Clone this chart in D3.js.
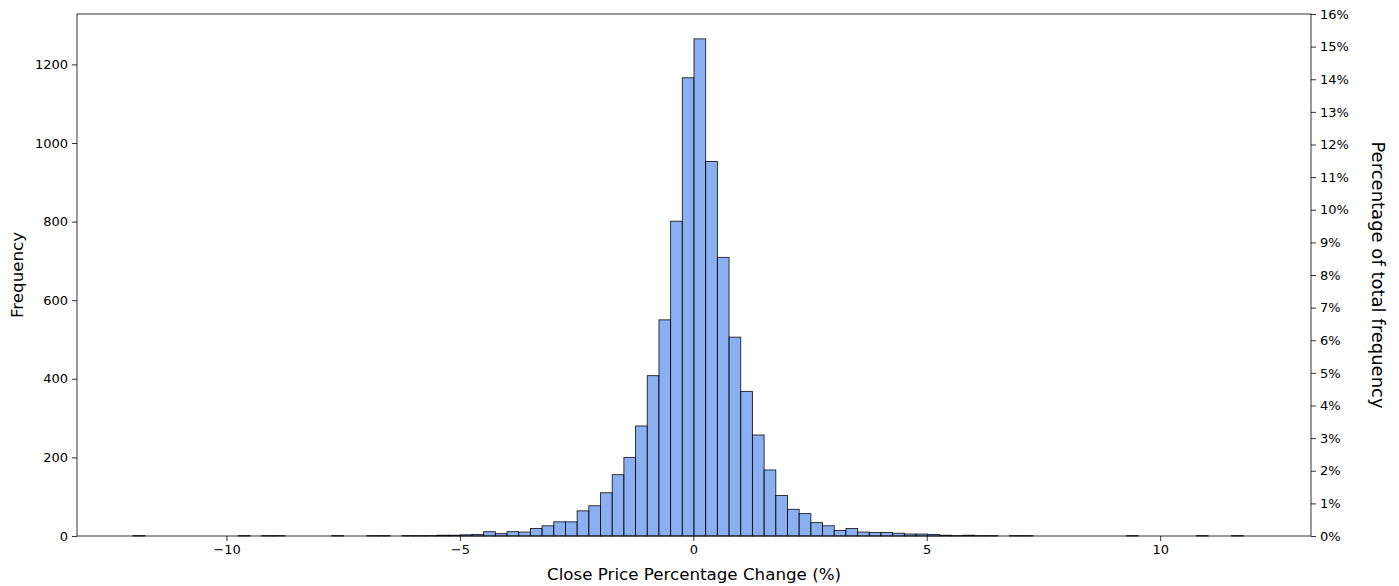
<!DOCTYPE html>
<html>
<head>
<meta charset="utf-8">
<script src="https://cdn.jsdelivr.net/npm/d3@7"></script>
<style>
  html, body { margin: 0; padding: 0; background: #fff; }
  svg { display: block; font-family: "DejaVu Sans", sans-serif; }
</style>
</head>
<body>
<svg id="chart" width="1399" height="586"></svg>
<script>
// ---- data ----
const binStart = -12.0;          // left edge of first bin (%)
const binWidth = 0.2503;         // bin width (%)
const counts = [
  1, 0, 0, 0, 0, 0, 0, 0, 0, 1,
  0, 1, 1, 0, 0, 0, 0, 1, 0, 0,
  1, 1, 0, 1, 1, 1, 2, 2, 3, 4,
  11, 6, 11, 10, 19, 26, 36, 36, 64, 77,
  110, 156, 200, 280, 408, 550, 801, 1166, 1265, 953,
  709, 506, 368, 257, 168, 103, 68, 57, 34, 26,
  14, 19, 10, 9, 9, 7, 5, 5, 4, 2,
  1, 2, 1, 1, 0, 1, 1, 0, 0, 0,
  0, 0, 0, 0, 0, 1, 0, 0, 0, 0,
  0, 1, 0, 0, 1, 0
];
const xTicks = [-10, -5, 0, 5, 10];
const yTicks = [0, 200, 400, 600, 800, 1000, 1200];
const pctTicks = [0, 1, 2, 3, 4, 5, 6, 7, 8, 9, 10, 11, 12, 13, 14, 15, 16];
const pctMax = 16;
const xLabel = "Close Price Percentage Change (%)";
const yLabel = "Frequency";
const y2Label = "Percentage of total frequency";

// ---- layout ----
const svg = d3.select("#chart");
const L = 77, R = 1311, T = 14, B = 536;

const bins = counts.map((c, i) => ({ x0: binStart + i * binWidth, x1: binStart + (i + 1) * binWidth, c }));
const xMin = bins[0].x0, xMax = bins[bins.length - 1].x1;
const pad = (xMax - xMin) * 0.05;
const x = d3.scaleLinear().domain([xMin - pad, xMax + pad]).range([L, R]);
const yMax = d3.max(counts) * 1.05;
const y = d3.scaleLinear().domain([0, yMax]).range([B, T]);
const y2 = d3.scaleLinear().domain([0, pctMax]).range([B, T]);

// bars
svg.append("g").selectAll("rect")
  .data(bins.filter(d => d.c > 0))
  .join("rect")
  .attr("x", d => x(d.x0))
  .attr("width", d => x(d.x1) - x(d.x0))
  .attr("y", d => y(d.c))
  .attr("height", d => B - y(d.c))
  .attr("fill", "#6495ED")
  .attr("fill-opacity", 0.75)
  .attr("stroke", "#000")
  .attr("stroke-opacity", 0.85)
  .attr("stroke-width", 0.9);

// axes
const fs = "13px";
const xAxis = d3.axisBottom(x).tickValues(xTicks).tickSize(5).tickPadding(4)
  .tickFormat(d => d < 0 ? "\u2212" + Math.abs(d) : String(d));
const gx = svg.append("g").attr("transform", `translate(0,${B})`).call(xAxis);
const yAxis = d3.axisLeft(y).tickValues(yTicks).tickSize(5).tickPadding(4).tickFormat(d3.format("d"));
const gy = svg.append("g").attr("transform", `translate(${L},0)`).call(yAxis);
const y2Axis = d3.axisRight(y2).tickValues(pctTicks).tickSize(5).tickPadding(4).tickFormat(d => d + "%");
const gy2 = svg.append("g").attr("transform", `translate(${R},0)`).call(y2Axis);

[gx, gy, gy2].forEach(g => {
  g.select(".domain").remove();
  g.selectAll(".tick line").attr("stroke", "#000").attr("stroke-width", 0.8);
  g.selectAll(".tick text").attr("fill", "#000").style("font-size", fs)
    .style("font-family", "'DejaVu Sans', sans-serif");
});

// frame
svg.append("rect").attr("x", L).attr("y", T).attr("width", R - L).attr("height", B - T)
  .attr("fill", "none").attr("stroke", "#000").attr("stroke-width", 0.8);

// labels
svg.append("text").attr("x", (L + R) / 2).attr("y", 580).attr("text-anchor", "middle")
  .style("font-size", "16.7px").attr("fill", "#000").text(xLabel);
svg.append("text").attr("transform", `translate(23,${(T + B) / 2}) rotate(-90)`)
  .attr("text-anchor", "middle").style("font-size", "16.7px").attr("fill", "#000").text(yLabel);
svg.append("text").attr("transform", `translate(1372,${(T + B) / 2}) rotate(90)`)
  .attr("text-anchor", "middle").style("font-size", "18px").attr("fill", "#000").text(y2Label);
</script>
</body>
</html>
